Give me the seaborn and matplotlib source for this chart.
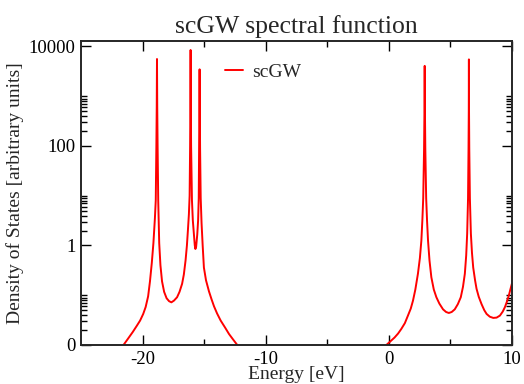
'''
scGW spectral function: density of states on a log axis,
valence and conduction manifolds drawn as two red segments.
'''

import matplotlib
matplotlib.use("Agg")
import matplotlib.pyplot as plt
import matplotlib.ticker as mticker
import pandas as pd
import seaborn as sns

#######################################################
### Data

# occupied manifold, energy in eV
energy_occ = [
    -22.0, -21.55, -21.2, -20.8, -20.46, -20.2, -19.95, -19.75, -19.55,
    -19.4, -19.25, -19.12, -19.0, -18.93, -18.88, -18.85, -18.83, -18.81,
    -18.78, -18.73, -18.65, -18.55, -18.42, -18.25, -18.05, -17.85,
    -17.66, -17.45, -17.2, -17.0, -16.79, -16.65, -16.51, -16.40, -16.32,
    -16.24, -16.18, -16.14, -16.12, -16.10, -16.08, -16.06, -15.99,
    -15.92, -15.83, -15.76, -15.71, -15.65, -15.56, -15.49, -15.44,
    -15.41, -15.39, -15.37, -15.35, -15.33, -15.28, -15.21, -15.12,
    -15.02, -14.85, -14.61, -14.4, -14.2, -13.95, -13.66, -13.3, -12.98,
    -12.65, -12.31, -12.0,
]
dos_occ = [
    0.0045, 0.010, 0.0132, 0.0182, 0.0245, 0.031, 0.042, 0.058, 0.095,
    0.19, 0.45, 1.12, 3.5, 8.1, 100, 630, 5600, 630,
    100, 8.1, 1.12, 0.40, 0.19, 0.117, 0.087, 0.076,
    0.072, 0.078, 0.091, 0.117, 0.17, 0.26, 0.50, 1.0, 2.0,
    4.2, 10, 100, 630, 8500, 630, 100, 8.1,
    3.2, 1.66, 1.0, 0.85, 0.95, 1.66, 3.2, 8.9,
    89, 500, 3470, 500, 89, 8.9, 2.8, 1.0,
    0.36, 0.20, 0.12, 0.083, 0.060, 0.043, 0.031, 0.0224, 0.0166,
    0.0129, 0.010, 0.0079,
]

# unoccupied manifold
energy_emp = [
    -0.6, -0.2, 0.15, 0.46, 0.75, 1.01, 1.3, 1.55, 1.78, 1.96, 2.15,
    2.36, 2.52, 2.64, 2.72, 2.79, 2.86, 2.89, 2.91, 2.93, 2.96, 3.03,
    3.10, 3.18, 3.30, 3.45, 3.65, 3.86, 4.1, 4.40, 4.65, 4.87, 5.1,
    5.35, 5.6, 5.84, 6.02, 6.17, 6.28, 6.36, 6.43, 6.47, 6.49, 6.50,
    6.51, 6.53, 6.58, 6.66, 6.75, 6.85, 7.0, 7.12, 7.3, 7.53, 7.75,
    7.94, 8.2, 8.48, 8.75, 9.02, 9.25, 9.43, 9.6, 9.75, 9.84, 10.0, 10.3,
]
dos_emp = [
    0.0071, 0.010, 0.012, 0.0141, 0.017, 0.021, 0.0275, 0.039, 0.054, 0.078, 0.13,
    0.27, 0.56, 1.26, 3.2, 8.9, 89, 500, 4070, 500, 89, 8.9,
    3.2, 1.26, 0.50, 0.23, 0.13, 0.091, 0.068, 0.052, 0.046, 0.044, 0.046,
    0.052, 0.066, 0.091, 0.148, 0.27, 0.63, 1.74, 8.9, 89, 500, 5500,
    500, 89, 8.9, 1.74, 0.71, 0.36, 0.20, 0.135, 0.093, 0.066, 0.050,
    0.042, 0.037, 0.035, 0.0355, 0.039, 0.047, 0.058, 0.076, 0.10, 0.123, 0.174, 0.40,
]

x_ticks = [-20, -10, 0, 10]
x_minor = [-15, -5, 5]
y_ticks = [0.01, 1, 100, 10000]
y_tick_labels = ["0", "1", "100", "10000"]


#######################################################
### Plot

sns.set_style("ticks")
plt.rcParams["font.family"] = ["Liberation Serif", "DejaVu Serif"]

df_occ = pd.DataFrame({"energy": energy_occ, "dos": dos_occ})
df_emp = pd.DataFrame({"energy": energy_emp, "dos": dos_emp})

fig = plt.figure(figsize=(5.24, 3.84), dpi=100)
ax = fig.add_axes([0.1546, 0.1016, 0.8225, 0.7917])

sns.lineplot(data=df_occ, x="energy", y="dos", color="red",
             linewidth=1.4, estimator=None, label="scGW", ax=ax)
sns.lineplot(data=df_emp, x="energy", y="dos", color="red",
             linewidth=1.4, estimator=None, legend=False, ax=ax)

ax.set_yscale("log")
ax.set_xlim(-25, 10)
ax.set_ylim(0.01, 12900)

ax.xaxis.set_major_locator(mticker.FixedLocator(x_ticks))
ax.xaxis.set_minor_locator(mticker.FixedLocator(x_minor))
ax.set_xticklabels([str(t) for t in x_ticks])

# minor ticks only in every other decade, like the original
y_minor = [k * d for d in (0.01, 1, 100) for k in range(2, 11)]
ax.yaxis.set_major_locator(mticker.FixedLocator(y_ticks))
ax.yaxis.set_minor_locator(mticker.FixedLocator(y_minor))
ax.yaxis.set_minor_formatter(mticker.NullFormatter())
ax.set_yticklabels(y_tick_labels)

ax.tick_params(which="both", direction="in", top=True, right=True,
               width=1, labelsize=13.5, colors="black")
ax.tick_params(which="major", length=7, pad=4)
ax.tick_params(which="minor", length=4)
for spine in ax.spines.values():
    spine.set_linewidth(1.4)

ax.set_title("scGW spectral function", fontsize=18.5, pad=6)
ax.set_xlabel("Energy [eV]", fontsize=14, labelpad=-1)
ax.set_ylabel("Density of States [arbitrary units]", fontsize=14, labelpad=3)

ax.legend(loc="center left", bbox_to_anchor=(0.335, 0.898), frameon=False,
          fontsize=14, handlelength=0.9, handletextpad=0.5, borderpad=0,
          borderaxespad=0)

fig.savefig("out.png", dpi=100)
